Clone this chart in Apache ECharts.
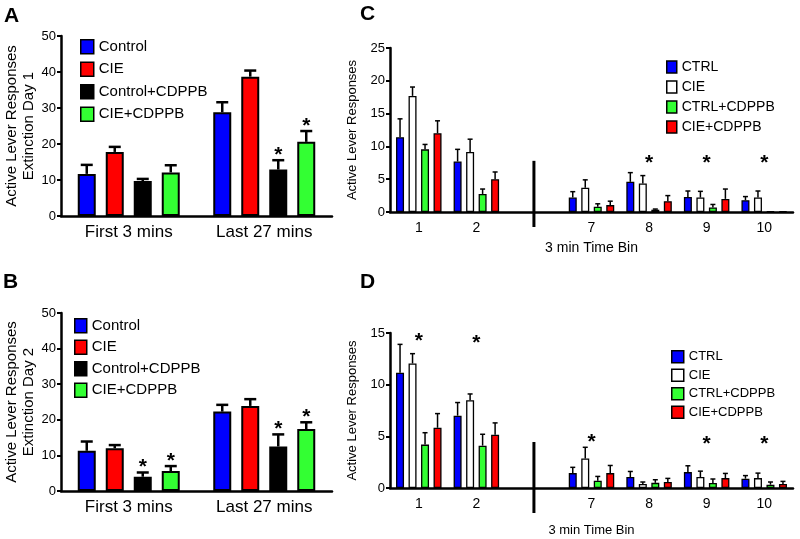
<!DOCTYPE html>
<html><head><meta charset="utf-8">
<script src="https://cdn.jsdelivr.net/npm/echarts@6/dist/echarts.min.js"></script>
<style>html,body{margin:0;padding:0;background:#fff}#c{width:800px;height:539px}</style>
</head><body><div id="c"></div>
<script>
// ---------- data ----------
const phaseCategories = ['First 3 mins', 'Last 27 mins'];
const phaseGroups = ['Control', 'CIE', 'Control+CDPPB', 'CIE+CDPPB'];

// Panel A: Extinction Day 1 (mean, SEM)
const day1Control = [11.7, 28.8];
const day1ControlErr = [2.5, 2.8];
const day1CIE = [17.8, 38.7];
const day1CIEErr = [1.4, 1.7];
const day1ControlCDPPB = [9.7, 12.9];
const day1ControlCDPPBErr = [0.6, 2.6];
const day1CIECDPPB = [12.1, 20.6];
const day1CIECDPPBErr = [2.0, 3.0];
const day1Stars = [[0, 0], [0, 0], [0, 1], [0, 1]];

// Panel B: Extinction Day 2
const day2Control = [11.3, 22.3];
const day2ControlErr = [2.6, 1.9];
const day2CIE = [12.0, 23.9];
const day2CIEErr = [0.9, 1.9];
const day2ControlCDPPB = [4.0, 12.5];
const day2ControlCDPPBErr = [1.2, 3.4];
const day2CIECDPPB = [5.6, 17.4];
const day2CIECDPPBErr = [1.4, 1.9];
const day2Stars = [[0, 0], [0, 0], [1, 1], [1, 1]];

// Panels C and D: 3 min time bins ('' = axis break)
const timeBins = ['1', '2', '', '7', '8', '9', '10'];
const binGroups = ['CTRL', 'CIE', 'CTRL+CDPPB', 'CIE+CDPPB'];

const cCTRL = [11.4, 7.7, null, 2.2, 4.6, 2.3, 1.8];
const cCTRLErr = [2.8, 1.85, null, 0.9, 1.4, 0.9, 0.55];
const cCIE = [17.7, 9.15, null, 3.7, 4.35, 2.2, 2.2];
const cCIEErr = [1.35, 1.95, null, 1.2, 1.2, 0.95, 1.0];
const cCTRLCDPPB = [9.55, 2.75, null, 0.8, 0.35, 0.7, 0.08];
const cCTRLCDPPBErr = [0.75, 0.75, null, 0.45, 0.1, 0.45, 0];
const cCIECDPPB = [12.0, 5.0, null, 1.05, 1.65, 2.0, 0.08];
const cCIECDPPBErr = [1.9, 1.1, null, 0.6, 0.85, 1.5, 0];
const cStarBins = [4, 5, 6];
const cStarLevel = [8.1, 8.1, 8.1];
const cBreakTop = 7.8;

const dCTRL = [11.15, 7.0, null, 1.44, 1.06, 1.54, 0.9];
const dCTRLErr = [2.75, 1.27, null, 0.56, 0.54, 0.61, 0.3];
const dCIE = [12.05, 8.5, null, 2.85, 0.38, 1.06, 0.96];
const dCIEErr = [0.95, 0.6, null, 1.09, 0.2, 0.57, 0.48];
const dCTRLCDPPB = [4.2, 4.1, null, 0.7, 0.5, 0.48, 0.32];
const dCTRLCDPPBErr = [1.15, 1.1, null, 0.42, 0.3, 0.39, 0.26];
const dCIECDPPB = [5.83, 5.16, null, 1.44, 0.58, 0.96, 0.38];
const dCIECDPPBErr = [1.37, 1.14, null, 0.74, 0.35, 0.45, 0.26];
const dStarBins = [0, 1, 3, 5, 6];
const dStarLevel = [14.7, 14.5, 4.85, 4.65, 4.65];
const dBreakTop = 4.45;

// ---------- styling / build ----------
const FONT = '"Liberation Sans", Arial, Helvetica, sans-serif';
const phaseColors = ['#0000ff', '#ff0000', '#000000', '#33ff33'];
const binColors = ['#0000ff', '#ffffff', '#33ff33', '#ff0000'];

const option = {
  animation: false,
  backgroundColor: '#fff',
  textStyle: { fontFamily: FONT, color: '#000' },
  title: [
    { text: 'A', left: 4, top: 6 }, { text: 'B', left: 3, top: 272 },
    { text: 'C', left: 360, top: 4 }, { text: 'D', left: 360, top: 272 }
  ].map(t => Object.assign(t, { padding: 0, textStyle: { fontFamily: FONT, fontSize: 21, fontWeight: 'bold', color: '#000' } })),
  grid: [], xAxis: [], yAxis: [], legend: [], series: []
};

function addPanel(p) {
  const gi = option.grid.length;
  option.grid.push({ left: p.left, top: p.top, width: p.width, height: p.height });
  option.xAxis.push({
    type: 'category', gridIndex: gi, data: p.categories,
    axisLine: { lineStyle: { color: '#000', width: p.axisW } },
    axisTick: { alignWithLabel: true, length: 5, interval: (i) => p.categories[i] !== '', lineStyle: { color: '#000', width: p.axisW } },
    axisLabel: { interval: 0, color: '#000', fontFamily: FONT, fontSize: p.xFont, margin: p.xMargin },
    name: p.xName || '', nameLocation: 'middle', nameGap: p.xNameGap || 0,
    nameTextStyle: { fontFamily: FONT, fontSize: p.xNameFont || 12, color: '#000' }
  });
  option.yAxis.push({
    type: 'value', gridIndex: gi, min: 0, max: p.max, interval: p.interval,
    axisLine: { show: true, lineStyle: { color: '#000', width: p.axisW } },
    axisTick: { show: true, length: 4, lineStyle: { color: '#000', width: p.axisW - 0.5 } },
    axisLabel: { color: '#000', fontFamily: FONT, fontSize: p.yFont, margin: 5 },
    splitLine: { show: false },
    name: p.yName, nameLocation: 'middle', nameGap: p.yNameGap,
    nameTextStyle: { fontFamily: FONT, fontSize: p.yNameFont, lineHeight: p.yNameLine, color: '#000' }
  });
  p.values.forEach((vals, si) => {
    option.series.push({
      type: 'bar', name: p.names[si], xAxisIndex: gi, yAxisIndex: gi, data: vals,
      barWidth: p.barW, barGap: (p.gap / p.barW * 100) + '%',
      itemStyle: { color: p.colors[si], borderColor: '#000', borderWidth: p.borderW },
      emphasis: { disabled: true }, z: 2
    });
  });
  const errData = [];
  p.values.forEach((vals, si) => vals.forEach((v, ci) => {
    if (v == null) return;
    errData.push([ci, v, p.errors[si][ci], si, p.stars ? p.stars[si][ci] : 0]);
  }));
  const n = p.names.length;
  option.series.push({
    type: 'custom', xAxisIndex: gi, yAxisIndex: gi, data: errData, silent: true, z: 3,
    encode: { x: 0, y: 1 },
    renderItem: (params, api) => {
      const ci = api.value(0), mean = api.value(1), err = api.value(2), si = api.value(3), star = api.value(4);
      const base = api.coord([ci, mean]);
      const topY = api.coord([ci, mean + err])[1];
      const x = base[0] + (si - (n - 1) / 2) * (p.barW + p.gap);
      const ch = [];
      if (err > 0) {
        ch.push({ type: 'line', shape: { x1: x, y1: base[1], x2: x, y2: topY }, style: { stroke: '#000', lineWidth: p.errW } });
        ch.push({ type: 'line', shape: { x1: x - p.capW / 2, y1: topY, x2: x + p.capW / 2, y2: topY }, style: { stroke: '#000', lineWidth: p.errW } });
      }
      if (star) {
        ch.push({ type: 'text', style: { text: '*', x: x, y: topY - p.starGap + 0.225 * p.starFont, fontSize: p.starFont, fontWeight: 'bold', fontFamily: FONT, fill: '#000', align: 'center', verticalAlign: 'middle' } });
      }
      return { type: 'group', children: ch };
    }
  });
  if (p.breakTop != null) {
    option.series.push({
      type: 'custom', xAxisIndex: gi, yAxisIndex: gi, data: [[2, p.breakTop]], silent: true, clip: false, z: 3,
      encode: { x: 0, y: 1 },
      renderItem: (params, api) => {
        const t = api.coord([api.value(0), api.value(1)]);
        const b = api.coord([api.value(0), 0]);
        return { type: 'line', shape: { x1: t[0], y1: t[1], x2: t[0], y2: b[1] + p.breakExt }, style: { stroke: '#000', lineWidth: 3 } };
      }
    });
  }
  if (p.starBins) {
    option.series.push({
      type: 'custom', xAxisIndex: gi, yAxisIndex: gi, silent: true, z: 3,
      data: p.starBins.map((b, i) => [b, p.starLevel[i]]),
      encode: { x: 0, y: 1 },
      renderItem: (params, api) => {
        const c = api.coord([api.value(0), api.value(1)]);
        return { type: 'text', style: { text: '*', x: c[0], y: c[1] + 0.225 * p.starFont, fontSize: p.starFont, fontWeight: 'bold', fontFamily: FONT, fill: '#000', align: 'center', verticalAlign: 'middle' } };
      }
    });
  }
  option.legend.push({
    orient: 'vertical', left: p.legend.left, top: p.legend.top, padding: 0,
    itemWidth: p.legend.w, itemHeight: p.legend.h, itemGap: p.legend.gap, icon: 'rect',
    selectedMode: false,
    textStyle: { fontFamily: FONT, fontSize: p.legend.font, color: '#000' },
    data: p.names.map((nm, i) => ({ name: nm, icon: 'rect', itemStyle: { color: p.colors[i], borderColor: '#000', borderWidth: 1.5 } }))
  });
}

const abCommon = {
  left: 61, width: 271, max: 50, interval: 10, categories: phaseCategories,
  xFont: 17, xMargin: 8, yFont: 13, yNameFont: 15, yNameLine: 17, yNameGap: 24,
  barW: 18, gap: 10, borderW: 2, errW: 2.5, capW: 12, axisW: 2.5,
  names: phaseGroups, colors: phaseColors, starFont: 21, starGap: 10
};
addPanel(Object.assign({}, abCommon, {
  top: 36, height: 180,
  yName: 'Active Lever Responses\nExtinction Day 1',
  values: [day1Control, day1CIE, day1ControlCDPPB, day1CIECDPPB],
  errors: [day1ControlErr, day1CIEErr, day1ControlCDPPBErr, day1CIECDPPBErr],
  stars: day1Stars,
  legend: { left: 80, top: 39, w: 13, h: 14, gap: 7, font: 15 }
}));
addPanel(Object.assign({}, abCommon, {
  top: 313, height: 178,
  yName: 'Active Lever Responses\nExtinction Day 2',
  values: [day2Control, day2CIE, day2ControlCDPPB, day2CIECDPPB],
  errors: [day2ControlErr, day2CIEErr, day2ControlCDPPBErr, day2CIECDPPBErr],
  stars: day2Stars,
  legend: { left: 74, top: 318, w: 12, h: 14, gap: 6, font: 15 }
}));
const cdCommon = {
  left: 390, width: 403, interval: 5, categories: timeBins,
  xFont: 14, xMargin: 9, yFont: 13, yName: 'Active Lever Responses', yNameFont: 13, yNameLine: 15, yNameGap: 21,
  xName: '3 min Time Bin',
  barW: 8, gap: 4.5, borderW: 1.3, errW: 1.5, capW: 5, axisW: 2.5,
  names: binGroups, colors: binColors, starFont: 21
};
addPanel(Object.assign({}, cdCommon, {
  top: 48, height: 164, max: 25, xNameFont: 14, xNameGap: 29,
  values: [cCTRL, cCIE, cCTRLCDPPB, cCIECDPPB],
  errors: [cCTRLErr, cCIEErr, cCTRLCDPPBErr, cCIECDPPBErr],
  breakTop: cBreakTop, breakExt: 15, starBins: cStarBins, starLevel: cStarLevel,
  legend: { left: 666, top: 60, w: 10, h: 12, gap: 6, font: 14 }
}));
addPanel(Object.assign({}, cdCommon, {
  top: 333, height: 155, max: 15, xNameFont: 13, xNameGap: 36,
  values: [dCTRL, dCIE, dCTRLCDPPB, dCIECDPPB],
  errors: [dCTRLErr, dCIEErr, dCTRLCDPPBErr, dCIECDPPBErr],
  breakTop: dBreakTop, breakExt: 25, starBins: dStarBins, starLevel: dStarLevel,
  legend: { left: 671, top: 350, w: 12, h: 12, gap: 5, font: 13 }
}));

const chart = echarts.init(document.getElementById('c'), null, { renderer: 'canvas' });
chart.setOption(option);
</script></body></html>
